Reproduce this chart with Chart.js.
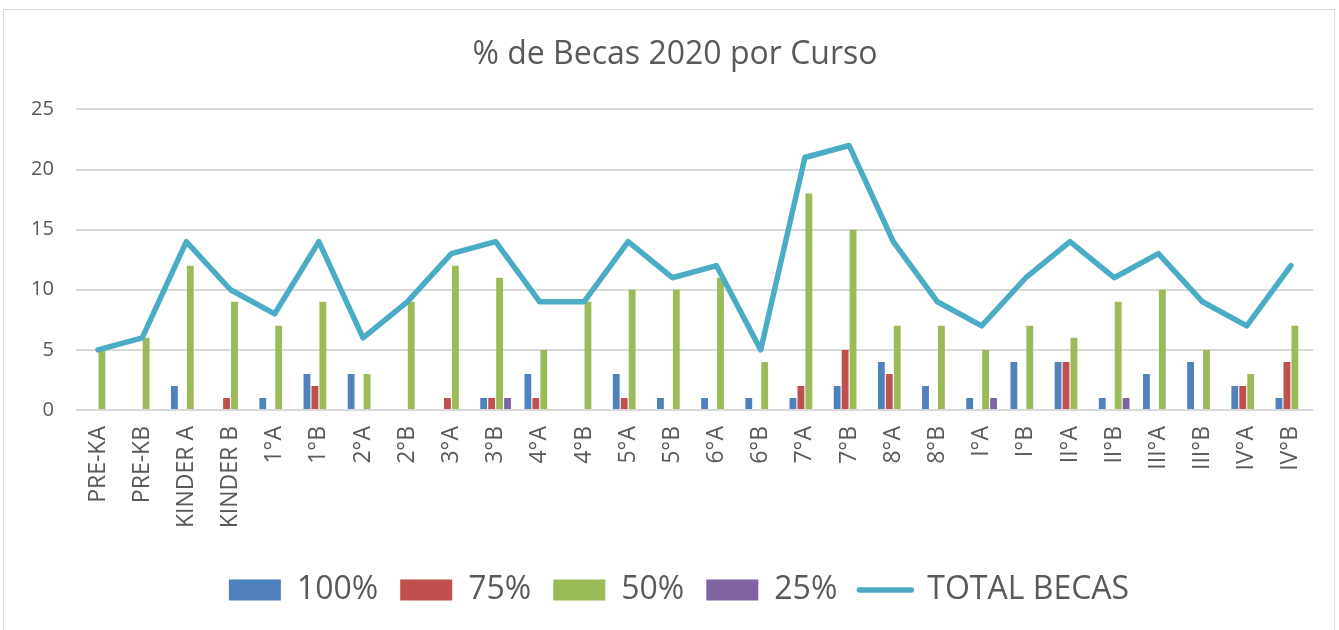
<!DOCTYPE html>
<html>
<head>
<meta charset="utf-8">
<script src="https://cdn.jsdelivr.net/npm/chart.js@4/dist/chart.umd.min.js"></script>
<style>
    html, body { margin: 0; padding: 0; background: #fff; }
    #wrap { position: absolute; left: 3px; top: 9px; width: 1332px; height: 640px; border: 1px solid #d9d9d9; box-sizing: border-box; }
    #chart { position: absolute; left: -3px; top: -9px; width: 1339px; height: 630px; }
</style>
</head>
<body>
<div id="wrap"><div id="chart"><canvas id="becasChart"></canvas></div></div>
<script>
let cursos = ['PRE-KA', 'PRE-KB', 'KINDER A', 'KINDER B', '1°A', '1°B', '2°A', '2°B', '3°A', '3°B', '4°A', '4°B', '5°A', '5°B',
    '6°A', '6°B', '7°A', '7°B', '8°A', '8°B', 'I°A', 'I°B', 'II°A', 'II°B', 'III°A', 'III°B', 'IV°A', 'IV°B'];
let becas100 = [null, null, 2, null, 1, 3, 3, null, null, 1, 3, null, 3, 1, 1, 1, 1, 2, 4, 2, 1, 4, 4, 1, 3, 4, 2, 1];
let becas75 = [null, null, null, 1, null, 2, null, null, 1, 1, 1, null, 1, null, null, null, 2, 5, 3, null, null, null, 4, null, null, null, 2, 4];
let becas50 = [5, 6, 12, 9, 7, 9, 3, 9, 12, 11, 5, 9, 10, 10, 11, 4, 18, 15, 7, 7, 5, 7, 6, 9, 10, 5, 3, 7];
let becas25 = [null, null, null, null, null, null, null, null, null, 1, null, null, null, null, null, null, null, null, null, null, 1, null, null, 1, null, null, null, null];
let totalBecas = [5, 6, 14, 10, 8, 14, 6, 9, 13, 14, 9, 9, 14, 11, 12, 5, 21, 22, 14, 9, 7, 11, 14, 11, 13, 9, 7, 12];
let yTicks = [0, 5, 10, 15, 20, 25];

let textColor = '#595959';
let fontFamily = "'Open Sans', 'Liberation Sans', sans-serif";

// title and legend sit a bit right of the canvas centre in the original
let nudge = {
    id: 'nudge',
    afterLayout(chart) {
        chart.titleBlock.left += 14;
        chart.titleBlock.right += 14;
        chart.legend.left += 18;
        chart.legend.right += 18;
    }
};

let barOpts = { categoryPercentage: 0.72, barPercentage: 0.86, borderWidth: 0 };

new Chart(document.getElementById('becasChart').getContext('2d'), {
    type: 'bar',
    data: {
        labels: cursos,
        datasets: [
            Object.assign({ label: '100%', data: becas100, backgroundColor: '#4f81bd', order: 2 }, barOpts),
            Object.assign({ label: '75%', data: becas75, backgroundColor: '#c0504d', order: 2 }, barOpts),
            Object.assign({ label: '50%', data: becas50, backgroundColor: '#9bbb59', order: 2 }, barOpts),
            Object.assign({ label: '25%', data: becas25, backgroundColor: '#8064a2', order: 2 }, barOpts),
            {
                type: 'line', label: 'TOTAL BECAS', data: totalBecas,
                borderColor: '#4bacc6', backgroundColor: '#4bacc6', borderWidth: 5.5,
                pointRadius: 0, tension: 0, order: 1, borderJoinStyle: 'round', borderCapStyle: 'round'
            }
        ]
    },
    options: {
        responsive: true,
        maintainAspectRatio: false,
        animation: false,
        layout: { padding: { left: 8, right: 27, top: 12, bottom: 15 } },
        plugins: {
            title: {
                display: true,
                text: '% de Becas 2020 por Curso',
                color: textColor,
                font: { family: fontFamily, size: 32, weight: 'normal' },
                padding: { top: 23, bottom: 35 }
            },
            legend: {
                position: 'bottom',
                labels: {
                    color: textColor,
                    font: { family: fontFamily, size: 32 },
                    usePointStyle: true,
                    pointStyleWidth: 52,
                    boxHeight: 21,
                    padding: 22,
                    generateLabels(chart) {
                        return chart.data.datasets.map((ds, i) => ({
                            text: ds.label,
                            fillStyle: ds.backgroundColor,
                            strokeStyle: ds.type === 'line' ? ds.borderColor : ds.backgroundColor,
                            lineWidth: ds.type === 'line' ? 5.5 : 0,
                            lineCap: 'round',
                            pointStyle: ds.type === 'line' ? 'line' : 'rect',
                            fontColor: textColor,
                            datasetIndex: i
                        }));
                    }
                }
            },
            tooltip: { enabled: false }
        },
        scales: {
            x: {
                grid: { display: false },
                border: { display: false },
                afterFit(axis) { axis.height = 142; },
                ticks: {
                    color: textColor,
                    font: { family: fontFamily, size: 23 },
                    minRotation: 90,
                    maxRotation: 90,
                    autoSkip: false,
                    padding: 8
                }
            },
            y: {
                min: 0,
                max: 25,
                afterBuildTicks(axis) { axis.ticks = yTicks.map(v => ({ value: v })); },
                grid: { color: '#d9d9d9', lineWidth: 2, drawTicks: false },
                border: { display: false },
                ticks: {
                    color: textColor,
                    font: { family: fontFamily, size: 20 },
                    padding: 22
                }
            }
        }
    },
    plugins: [nudge]
});
</script>
</body>
</html>
